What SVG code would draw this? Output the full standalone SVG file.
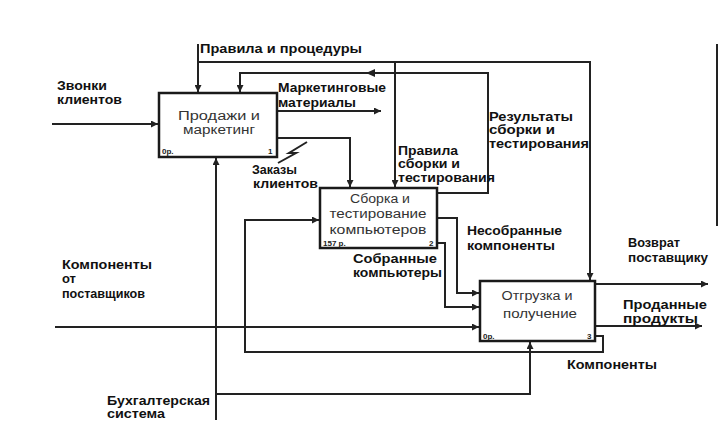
<svg xmlns="http://www.w3.org/2000/svg" width="720" height="442" viewBox="0 0 720 442">
<style>
.bg{fill:#ffffff}
.box{fill:#ffffff;stroke:#1a1a1a;stroke-width:2.5}
.ln{fill:none;stroke:#222;stroke-width:2}
.lbl{font-family:"Liberation Sans",Arial,sans-serif;font-size:12px;font-weight:bold;fill:#111}
.bt{font-family:"Liberation Sans",Arial,sans-serif;font-size:12.5px;fill:#333;text-anchor:middle}
.cn{font-family:"Liberation Sans",Arial,sans-serif;font-size:8px;font-weight:bold;fill:#222}
</style>
<defs>
<marker id="ah" viewBox="0 0 10 10" refX="10" refY="5" markerWidth="8" markerHeight="7" orient="auto" markerUnits="userSpaceOnUse">
<path d="M0,0 L10,5 L0,10 z" fill="#222"/>
</marker>
</defs>
<rect class="bg" x="0" y="0" width="720" height="442"/>

<g id="connectors">
<!-- Правила и процедуры -->
<path class="ln" d="M198,44 V92" marker-end="url(#ah)"/>
<path class="ln" d="M198,62 H590 V280" marker-end="url(#ah)"/>
<path class="ln" d="M395,62 V187" marker-end="url(#ah)"/>
<!-- Результаты сборки и тестирования -->
<path class="ln" d="M437,193 H488 V73 H240 V92" marker-end="url(#ah)"/>
<path d="M366,73 L375,69 L375,77 z" fill="#222"/>
<!-- Маркетинговые материалы -->
<path class="ln" d="M277,111 H381" marker-end="url(#ah)"/>
<!-- Заказы клиентов -->
<path class="ln" d="M277,138 H350 V187" marker-end="url(#ah)"/>
<polyline class="ln" points="307,142 289,153 296,153 278,163" stroke-width="1.5"/>
<!-- Звонки клиентов -->
<path class="ln" d="M52,124 H158" marker-end="url(#ah)"/>
<!-- Компоненты (обратная связь) -->
<path class="ln" d="M595,336 H603 V352 H245 V220 H319" marker-end="url(#ah)"/>
<!-- Компоненты от поставщиков -->
<path class="ln" d="M55,327 H479" marker-end="url(#ah)"/>
<!-- Несобранные компоненты -->
<path class="ln" d="M437,218 H457 V293 H479" marker-end="url(#ah)"/>
<!-- Собранные компьютеры -->
<path class="ln" d="M437,243 H445 V307 H479" marker-end="url(#ah)"/>
<!-- Возврат поставщику -->
<path class="ln" d="M595,284 H708" marker-end="url(#ah)"/>
<!-- Проданные продукты -->
<path class="ln" d="M595,326 H702" marker-end="url(#ah)"/>
<!-- Бухгалтерская система -->
<path class="ln" d="M216,420 V158" marker-end="url(#ah)"/>
<path class="ln" d="M216,394 H530 V342" marker-end="url(#ah)"/>
<!-- frame edge -->
<path class="ln" d="M717,44 V226" stroke-width="1.5"/>
</g>

<g id="node-sales">
<rect class="box" x="159" y="93" width="118" height="64"/>
<text class="bt" x="219" y="120" textLength="82" lengthAdjust="spacingAndGlyphs">Продажи и</text>
<text class="bt" x="219" y="134" textLength="72" lengthAdjust="spacingAndGlyphs">маркетинг</text>
<text class="cn" x="162" y="154">0р.</text>
<text class="cn" x="268" y="154">1</text>
</g>

<g id="node-assembly">
<rect class="box" x="320" y="188" width="117" height="60"/>
<text class="bt" x="380" y="203" textLength="60" lengthAdjust="spacingAndGlyphs">Сборка и</text>
<text class="bt" x="378" y="218" textLength="97" lengthAdjust="spacingAndGlyphs">тестирование</text>
<text class="bt" x="378" y="234" textLength="97" lengthAdjust="spacingAndGlyphs">компьютеров</text>
<text class="cn" x="323" y="246">157 р.</text>
<text class="cn" x="429" y="246">2</text>
</g>

<g id="node-shipping">
<rect class="box" x="480" y="281" width="115" height="60"/>
<text class="bt" x="537" y="300" textLength="71" lengthAdjust="spacingAndGlyphs">Отгрузка и</text>
<text class="bt" x="540" y="318" textLength="74" lengthAdjust="spacingAndGlyphs">получение</text>
<text class="cn" x="483" y="339">0р.</text>
<text class="cn" x="587" y="339">3</text>
</g>

<g id="labels">
<text class="lbl" x="200" y="53" textLength="162" lengthAdjust="spacingAndGlyphs">Правила и процедуры</text>
<text class="lbl" x="57" y="90" textLength="50" lengthAdjust="spacingAndGlyphs">Звонки</text>
<text class="lbl" x="57" y="104" textLength="65" lengthAdjust="spacingAndGlyphs">клиентов</text>
<text class="lbl" x="278" y="92" textLength="108" lengthAdjust="spacingAndGlyphs">Маркетинговые</text>
<text class="lbl" x="278" y="107" textLength="78" lengthAdjust="spacingAndGlyphs">материалы</text>
<text class="lbl" x="489" y="121" textLength="84" lengthAdjust="spacingAndGlyphs">Результаты</text>
<text class="lbl" x="489" y="134" textLength="66" lengthAdjust="spacingAndGlyphs">сборки и</text>
<text class="lbl" x="489" y="148" textLength="100" lengthAdjust="spacingAndGlyphs">тестирования</text>
<text class="lbl" x="398" y="155" textLength="60" lengthAdjust="spacingAndGlyphs">Правила</text>
<text class="lbl" x="398" y="168" textLength="62" lengthAdjust="spacingAndGlyphs">сборки и</text>
<text class="lbl" x="398" y="182" textLength="97" lengthAdjust="spacingAndGlyphs">тестирования</text>
<text class="lbl" x="252" y="174" textLength="45" lengthAdjust="spacingAndGlyphs">Заказы</text>
<text class="lbl" x="253" y="188" textLength="65" lengthAdjust="spacingAndGlyphs">клиентов</text>
<text class="lbl" x="467" y="235" textLength="95" lengthAdjust="spacingAndGlyphs">Несобранные</text>
<text class="lbl" x="467" y="250" textLength="88" lengthAdjust="spacingAndGlyphs">компоненты</text>
<text class="lbl" x="353" y="263" textLength="84" lengthAdjust="spacingAndGlyphs">Собранные</text>
<text class="lbl" x="353" y="277" textLength="89" lengthAdjust="spacingAndGlyphs">компьютеры</text>
<text class="lbl" x="628" y="247" textLength="52" lengthAdjust="spacingAndGlyphs">Возврат</text>
<text class="lbl" x="628" y="262" textLength="80" lengthAdjust="spacingAndGlyphs">поставщику</text>
<text class="lbl" x="623" y="309" textLength="84" lengthAdjust="spacingAndGlyphs">Проданные</text>
<text class="lbl" x="623" y="323" textLength="75" lengthAdjust="spacingAndGlyphs">продукты</text>
<text class="lbl" x="567" y="369" textLength="90" lengthAdjust="spacingAndGlyphs">Компоненты</text>
<text class="lbl" x="62" y="269" textLength="90" lengthAdjust="spacingAndGlyphs">Компоненты</text>
<text class="lbl" x="62" y="283" textLength="14" lengthAdjust="spacingAndGlyphs">от</text>
<text class="lbl" x="62" y="298" textLength="83" lengthAdjust="spacingAndGlyphs">поставщиков</text>
<text class="lbl" x="107" y="405" textLength="103" lengthAdjust="spacingAndGlyphs">Бухгалтерская</text>
<text class="lbl" x="107" y="418" textLength="58" lengthAdjust="spacingAndGlyphs">система</text>
</g>
</svg>
